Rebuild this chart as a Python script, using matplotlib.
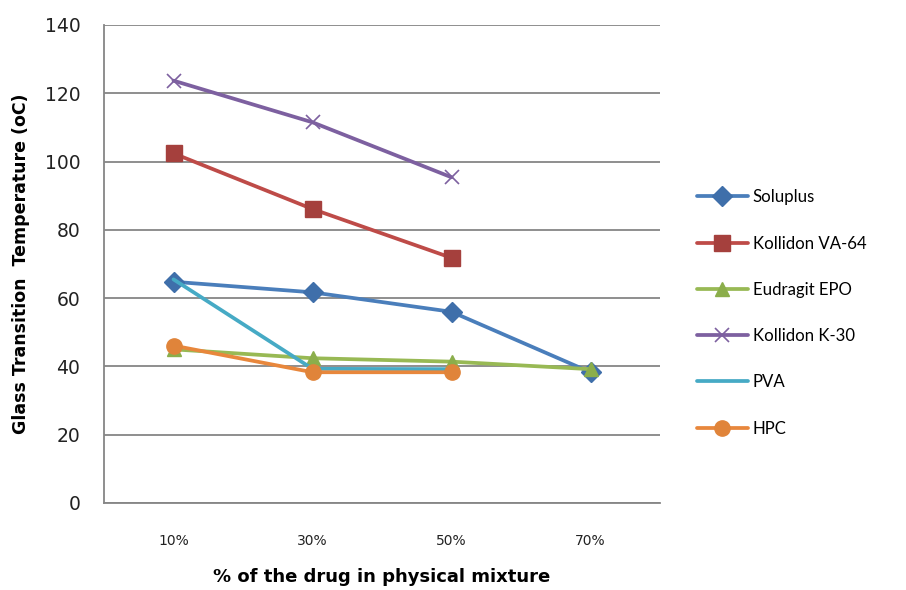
#importing libraries
import numpy as np
import matplotlib
matplotlib.use("Agg")
import matplotlib.pyplot as plt

#chart data
categories = ["10%", "30%", "50%", "70%"]
soluplus = [64.8, 61.7, 56.0, 38.3]
kollidon_va64 = [102.4, 86.1, 71.8, np.nan]
eudragit_epo = [45.0, 42.4, 41.4, 39.2]
kollidon_k30 = [123.7, 111.5, 95.4, np.nan]
pva = [65.5, 39.3, 39.2, np.nan]
hpc = [46.1, 38.3, 38.3, np.nan]

series_names = ["Soluplus", "Kollidon VA-64", "Eudragit EPO", "Kollidon K-30", "PVA", "HPC"]
y_ticks = [0, 20, 40, 60, 80, 100, 120, 140]

#styles (line colour, marker colour, marker, size)
styles = [
    ("#4A7EBB", "#3F6FAA", "D", 10),
    ("#BE4B48", "#A5403D", "s", 11),
    ("#98B954", "#8BAE4B", "^", 10),
    ("#7D60A0", "#7D60A0", "x", 10),
    ("#46AAC5", "#46AAC5", None, 0),
    ("#E8873C", "#E0843A", "o", 11),
]

fig = plt.figure(figsize=(9.06, 5.9), dpi=100)
ax = fig.add_axes([104 / 906, 87 / 590, 556 / 906, 478 / 590])

x = np.arange(len(categories))
all_series = [soluplus, kollidon_va64, eudragit_epo, kollidon_k30, pva, hpc]

# draw order: later ones on top (like excel)
for name, values, (lc, mc, mk, ms) in zip(series_names, all_series, styles):
    ax.plot(
        x, values,
        color=lc,
        linewidth=2.7,
        marker=mk,
        markersize=ms,
        markerfacecolor=mc,
        markeredgecolor=mc,
        markeredgewidth=1.2 if mk == "x" else 1,
        label=name,
        solid_capstyle="round",
    )

ax.set_xlim(-0.5, 3.5)
ax.set_ylim(0, 140)
ax.set_yticks(y_ticks)
ax.set_xticks(x)
ax.set_xticklabels(categories, fontsize=10, color="#222222")
ax.tick_params(axis="y", labelsize=13.5, length=0, pad=17, colors="#222222")
ax.tick_params(axis="x", length=0, pad=22)

ax.grid(axis="y", color="#868686", linewidth=1.3)
ax.set_axisbelow(True)
for side in ["top", "right"]:
    ax.spines[side].set_visible(False)
for side in ["left", "bottom"]:
    ax.spines[side].set_color("#868686")
    ax.spines[side].set_linewidth(1.3)

ax.set_ylabel("Glass Transition  Temperature (oC)", fontsize=12.5, fontweight="bold")
ax.yaxis.set_label_coords(-0.133, 0.5)
ax.set_xlabel("% of the drug in physical mixture", fontsize=13, fontweight="bold", labelpad=15)

ax.legend(
    loc="center left",
    bbox_to_anchor=(682 / 906, 1 - 313 / 590),
    bbox_transform=fig.transFigure,
    frameon=False,
    prop={"family": "Lato", "size": 12.1},
    numpoints=1,
    handlelength=3.0,
    handletextpad=0.3,
    labelspacing=1.8,
)

fig.savefig("out.png", dpi=100)
